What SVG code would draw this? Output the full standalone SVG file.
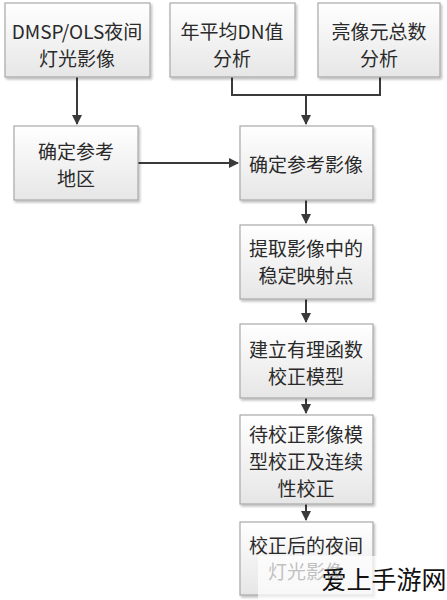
<svg xmlns="http://www.w3.org/2000/svg" width="447" height="600" viewBox="0 0 447 600">
<defs>
<linearGradient id="g" x1="0" y1="0" x2="0" y2="1">
<stop offset="0" stop-color="#ffffff"/>
<stop offset="1" stop-color="#e6e6e6"/>
</linearGradient>
<filter id="sh" x="-10%" y="-10%" width="120%" height="130%">
<feDropShadow dx="1.5" dy="2" stdDeviation="1.2" flood-color="#000" flood-opacity="0.25"/>
</filter>
<marker id="ah" markerWidth="10" markerHeight="10" refX="9" refY="5" orient="auto" markerUnits="userSpaceOnUse">
<path d="M0,0 L10,5 L0,10 z" fill="#3a3a3a"/>
</marker>
<style>
.box{fill:url(#g);stroke:#a8a8a8;stroke-width:1.2;filter:url(#sh)}
.t{font-family:"Noto Sans CJK SC","Noto Sans",sans-serif;font-size:19px;fill:#2a2a2a;text-anchor:middle;dominant-baseline:central}
.c{fill:none;stroke:#3a3a3a;stroke-width:2}
</style>
</defs>
<rect width="447" height="600" fill="#fff"/>
<g id="connectors">
<path class="c" d="M77,77 V124" marker-end="url(#ah)"/>
<path class="c" d="M232,77 V95 H380 V77"/>
<path class="c" d="M306,95 V124" marker-end="url(#ah)"/>
<path class="c" d="M138,163 H238" marker-end="url(#ah)"/>
<path class="c" d="M306,200 V223" marker-end="url(#ah)"/>
<path class="c" d="M306,299 V322" marker-end="url(#ah)"/>
<path class="c" d="M306,398 V413" marker-end="url(#ah)"/>
<path class="c" d="M306,504 V520" marker-end="url(#ah)"/>
</g>
<g id="n1"><rect class="box" x="5" y="3" width="145" height="74"/>
<text class="t" x="77" y="30">DMSP/OLS夜间</text><text class="t" x="77" y="57">灯光影像</text></g>
<g id="n2"><rect class="box" x="170" y="3" width="125" height="74"/>
<text class="t" x="232" y="30">年平均DN值</text><text class="t" x="232" y="57">分析</text></g>
<g id="n3"><rect class="box" x="318" y="3" width="122" height="74"/>
<text class="t" x="379" y="30">亮像元总数</text><text class="t" x="379" y="57">分析</text></g>
<g id="n4"><rect class="box" x="14" y="126" width="124" height="74"/>
<text class="t" x="76" y="150">确定参考</text><text class="t" x="76" y="177">地区</text></g>
<g id="n5"><rect class="box" x="240" y="126" width="133" height="74"/>
<text class="t" x="306" y="163">确定参考影像</text></g>
<g id="n6"><rect class="box" x="240" y="225" width="133" height="74"/>
<text class="t" x="306" y="247">提取影像中的</text><text class="t" x="306" y="274">稳定映射点</text></g>
<g id="n7"><rect class="box" x="240" y="324" width="133" height="74"/>
<text class="t" x="306" y="348">建立有理函数</text><text class="t" x="306" y="375">校正模型</text></g>
<g id="n8"><rect class="box" x="240" y="415" width="133" height="89"/>
<text class="t" x="306" y="433">待校正影像模</text><text class="t" x="306" y="460">型校正及连续</text><text class="t" x="306" y="487">性校正</text></g>
<g id="n9"><rect class="box" x="240" y="522" width="133" height="73"/>
<text class="t" x="306" y="544">校正后的夜间</text><text class="t" x="306" y="570">灯光影像</text></g>
<rect x="258" y="556" width="189" height="44" fill="#fff" opacity="0.7"/>
<text x="384" y="578" style="font-family:'Noto Sans CJK SC',sans-serif;font-size:25px;fill:#111;text-anchor:middle;dominant-baseline:central">爱上手游网</text>
</svg>
